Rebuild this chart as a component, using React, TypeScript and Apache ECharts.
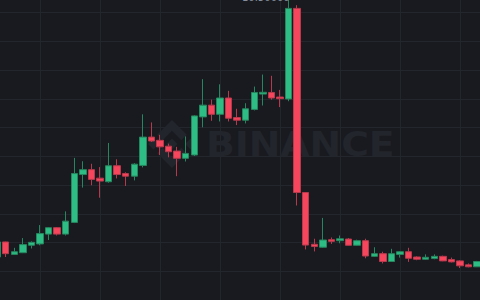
import React, { useEffect, useRef } from "react";
import * as echarts from "echarts";

// Candle data (price units), oldest to newest
const opens = [1.497, 2.02, 1.588, 1.646, 1.905, 1.952, 2.293, 2.517, 2.293, 2.701, 4.367, 4.537, 4.241, 4.116, 4.673, 4.401, 4.31, 4.684, 5.67, 5.558, 5.354, 5.184, 4.932, 5.048, 6.374, 6.782, 6.463, 7.031, 6.35, 6.259, 6.633, 7.167, 7.224, 7.065, 6.997, 10.15, 3.741, 1.939, 1.837, 2.099, 2.065, 2.122, 1.905, 2.065, 1.52, 1.612, 1.34, 1.588, 1.68, 1.497, 1.418, 1.442, 1.52, 1.408, 1.361, 1.224, 1.156];
const closes = [2.02, 1.612, 1.68, 1.929, 2.007, 2.313, 2.517, 2.293, 2.745, 4.401, 4.537, 4.197, 4.139, 4.673, 4.367, 4.31, 4.728, 5.67, 5.534, 5.33, 5.16, 4.932, 5.102, 6.408, 6.782, 6.463, 7.031, 6.327, 6.259, 6.656, 7.224, 7.23, 7.031, 7.007, 10.15, 3.741, 1.912, 1.861, 2.088, 2.041, 2.133, 1.905, 2.065, 1.531, 1.612, 1.34, 1.612, 1.68, 1.452, 1.418, 1.486, 1.52, 1.361, 1.327, 1.19, 1.156, 1.34];
const lows = [1.452, 1.497, 1.571, 1.633, 1.793, 1.905, 2.088, 2.245, 2.245, 2.677, 3.912, 3.993, 3.561, 4.082, 4.231, 3.969, 4.163, 4.616, 5.5, 5.048, 4.966, 4.31, 4.82, 5.014, 6.01, 6.238, 6.214, 6.214, 6.088, 6.146, 6.599, 6.769, 6.973, 6.714, 6.918, 3.289, 1.759, 1.69, 1.816, 1.952, 1.973, 1.895, 1.895, 1.452, 1.497, 1.272, 1.327, 1.476, 1.327, 1.384, 1.401, 1.418, 1.35, 1.306, 1.112, 1.136, 1.146];
const highs = [2.099, 2.031, 1.816, 2.156, 2.041, 2.609, 2.541, 2.541, 3.085, 4.946, 4.83, 4.741, 4.626, 5.466, 4.898, 4.446, 4.762, 6.463, 6.18, 5.748, 5.442, 5.33, 5.694, 6.429, 7.687, 6.973, 7.507, 7.279, 6.656, 6.85, 7.429, 7.847, 7.803, 7.313, 10.5, 10.262, 3.741, 2.133, 2.857, 2.177, 2.245, 2.156, 2.099, 2.133, 1.837, 1.68, 1.782, 1.701, 1.816, 1.52, 1.588, 1.588, 1.544, 1.476, 1.384, 1.272, 1.361];
// Category labels (hidden axis)
const categories = opens.map((_, i) => `T${i + 1}`);
const maxLabel = "10.50000";

const LOGO_D =
  "M38.73 53.2l24.59-24.58 24.6 24.6 14.3-14.31L63.32 0 24.43 38.9l14.3 14.3z M0 63.31l14.3-14.31 14.31 14.31-14.31 14.3z M38.73 73.41l24.59 24.59 24.6-24.6 14.31 14.29-38.9 38.91-38.91-38.88-.02-.02z M98 63.31l14.3-14.31 14.31 14.3-14.31 14.32z M77.83 63.3L63.32 48.78 52.59 59.51l-1.24 1.23-2.54 2.54-.02.02.02.03 14.51 14.5 14.51-14.52.01-.01-.01-.01z";
echarts.graphic.registerShape("bnbLogo", echarts.graphic.extendPath(LOGO_D, {}));

const BG = "#181a20";
const GRIDLINE = "#23262d";
const UP = "#2ebd85";
const DOWN = "#f6465d";
const UP_WICK = "#26865d";
const DOWN_WICK = "#b9394c";
const WM = "#22252b";
const OFF = 8; // chart canvas is shifted left by this many px

export default function App() {
  const ref = useRef<HTMLDivElement>(null);
  useEffect(() => {
    document.body.style.margin = "0";
    const chart = echarts.init(ref.current!, undefined, { renderer: "svg" });
    const data = opens.map((o, i) => [o, closes[i], lows[i], highs[i]]);
    chart.setOption({
      animation: false,
      backgroundColor: BG,
      grid: [
        { left: 0.86, right: 0.54, top: 12.7, bottom: -6.7 },
        { left: 48, right: 22, top: 0, bottom: 0 },
      ],
      xAxis: [
        {
          type: "category",
          data: categories,
          gridIndex: 0,
          axisLine: { show: false },
          axisTick: { show: false },
          axisLabel: { show: false },
          splitLine: { show: false },
        },
        {
          type: "value",
          gridIndex: 1,
          min: 0,
          max: 420,
          interval: 60,
          axisLine: { show: false },
          axisTick: { show: false },
          axisLabel: { show: false },
          splitLine: { show: true, lineStyle: { color: GRIDLINE, width: 1 } },
        },
      ],
      yAxis: [
        {
          type: "value",
          gridIndex: 0,
          min: 0,
          max: 10,
          interval: 1,
          axisLine: { show: false },
          axisTick: { show: false },
          axisLabel: { show: false },
          splitLine: { show: true, lineStyle: { color: GRIDLINE, width: 1 } },
        },
        {
          type: "value",
          gridIndex: 1,
          min: 0,
          max: 1,
          axisLine: { show: false },
          axisTick: { show: false },
          axisLabel: { show: false },
          splitLine: { show: false },
        },
      ],
      graphic: [
        {
          type: "bnbLogo",
          x: 148 + OFF,
          y: 120,
          scaleX: 0.379,
          scaleY: 0.379,
          z: 1,
          style: { fill: WM },
        },
        {
          type: "text",
          x: 206 + OFF,
          y: 144,
          scaleX: 1.11,
          z: 1,
          style: {
            text: "BINANCE",
            fill: WM,
            font: "bold 34px 'DejaVu Sans'",
            textAlign: "left",
            textVerticalAlign: "middle",
          },
        },
        {
          type: "text",
          x: 242 + OFF,
          y: -8,
          z: 5,
          style: {
            text: maxLabel,
            fill: "#848e9c",
            font: "10px 'DejaVu Sans'",
            textAlign: "left",
            textVerticalAlign: "top",
          },
        },
      ],
      series: [
        {
          type: "candlestick",
          xAxisIndex: 0,
          yAxisIndex: 0,
          data,
          barWidth: 7,
          clip: false,
          z: 3,
          itemStyle: {
            color: UP,
            color0: DOWN,
            borderColor: UP_WICK,
            borderColor0: DOWN_WICK,
            borderWidth: 1,
          },
        },
      ],
    });
    return () => chart.dispose();
  }, []);
  return (
    <div style={{ position: "relative", width: 480, height: 300, overflow: "hidden", background: BG }}>
      <div ref={ref} style={{ position: "absolute", left: -OFF, top: 0, width: 490, height: 300 }} />
    </div>
  );
}
